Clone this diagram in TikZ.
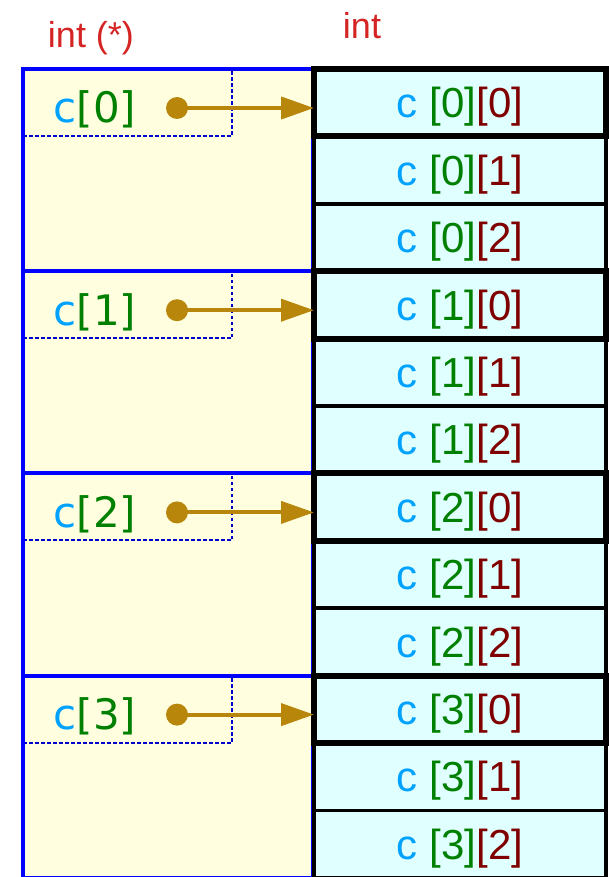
\documentclass[tikz,border=0pt]{standalone}
\usepackage{fontspec}
\setmainfont{Liberation Sans}
\newfontfamily\dejavu{DejaVu Sans}
\usetikzlibrary{arrows.meta}
\definecolor{PtrFill}{HTML}{FFFFE0}
\definecolor{CellFill}{HTML}{E0FFFF}
\definecolor{Name}{HTML}{00A2FF}
\definecolor{RowIx}{HTML}{008000}
\definecolor{ColIx}{HTML}{800000}
\definecolor{Gold}{HTML}{B8860B}
\definecolor{TypeRed}{HTML}{D42424}
\definecolor{Frame}{HTML}{0000FF}
\definecolor{Dots}{HTML}{0000CC}

\begin{document}
\begin{tikzpicture}[x=1pt,y=-1pt,
  cell/.style={draw=black,fill=CellFill,minimum width=292pt,minimum height=67.4pt,
    inner sep=0pt,outer sep=0pt,text depth=0pt,font=\fontsize{42}{48}\selectfont},
  rowname/.style={font=\dejavu\fontsize{42}{48}\selectfont,text depth=0pt},
  typename/.style={text=TypeRed,font=\fontsize{36}{40}\selectfont},
  ptr/.style={circle,fill=Gold,minimum size=22pt,inner sep=0pt},
  link/.style={Gold,line width=4pt,-{Triangle[length=33pt,width=22pt]}}]
\useasboundingbox (0,0) rectangle (608,877);
% pointer column
\foreach \g in {0,...,3}{
  \pgfmathsetmacro\gy{69+202.2*\g}
  \fill[PtrFill] (23,\gy) rectangle (313,\gy+202.2);
  \draw[Dots,line width=2pt,dash pattern=on 3.5pt off 2.5pt] (23,\gy+67) -| (232,\gy);
  \draw[Frame,line width=4pt] (23,\gy) rectangle (313,\gy+202.2);
  \node[rowname] (n\g) at (95,\gy+38) {\textcolor{Name}{c}\textcolor{RowIx}{[\g]}};
}
% int cells, head of each row last so its frame stays on top
\foreach \g in {0,...,3}
  \foreach \k/\lw in {1/3.5,2/3.5,0/6}{
    \pgfmathsetmacro\cy{69+202.2*\g+67.4*\k+33.7}
    \node[cell,line width=\lw pt] (r\g\k) at (460,\cy)
      {\textcolor{Name}{c} \textcolor{RowIx}{[\g]}\textcolor{ColIx}{[\k]}};
  }
% pointers
\foreach \g in {0,...,3}{
  \node[ptr] (p\g) at (177,69+202.2*\g+39) {};
  \draw[link] (p\g.center) -- (p\g.center -| r\g0.west);
}
\node[typename] (ptrtype) at (91,38) {int (*)};
\node[typename] (celltype) at (362,26) {int};
\end{tikzpicture}
\end{document}
